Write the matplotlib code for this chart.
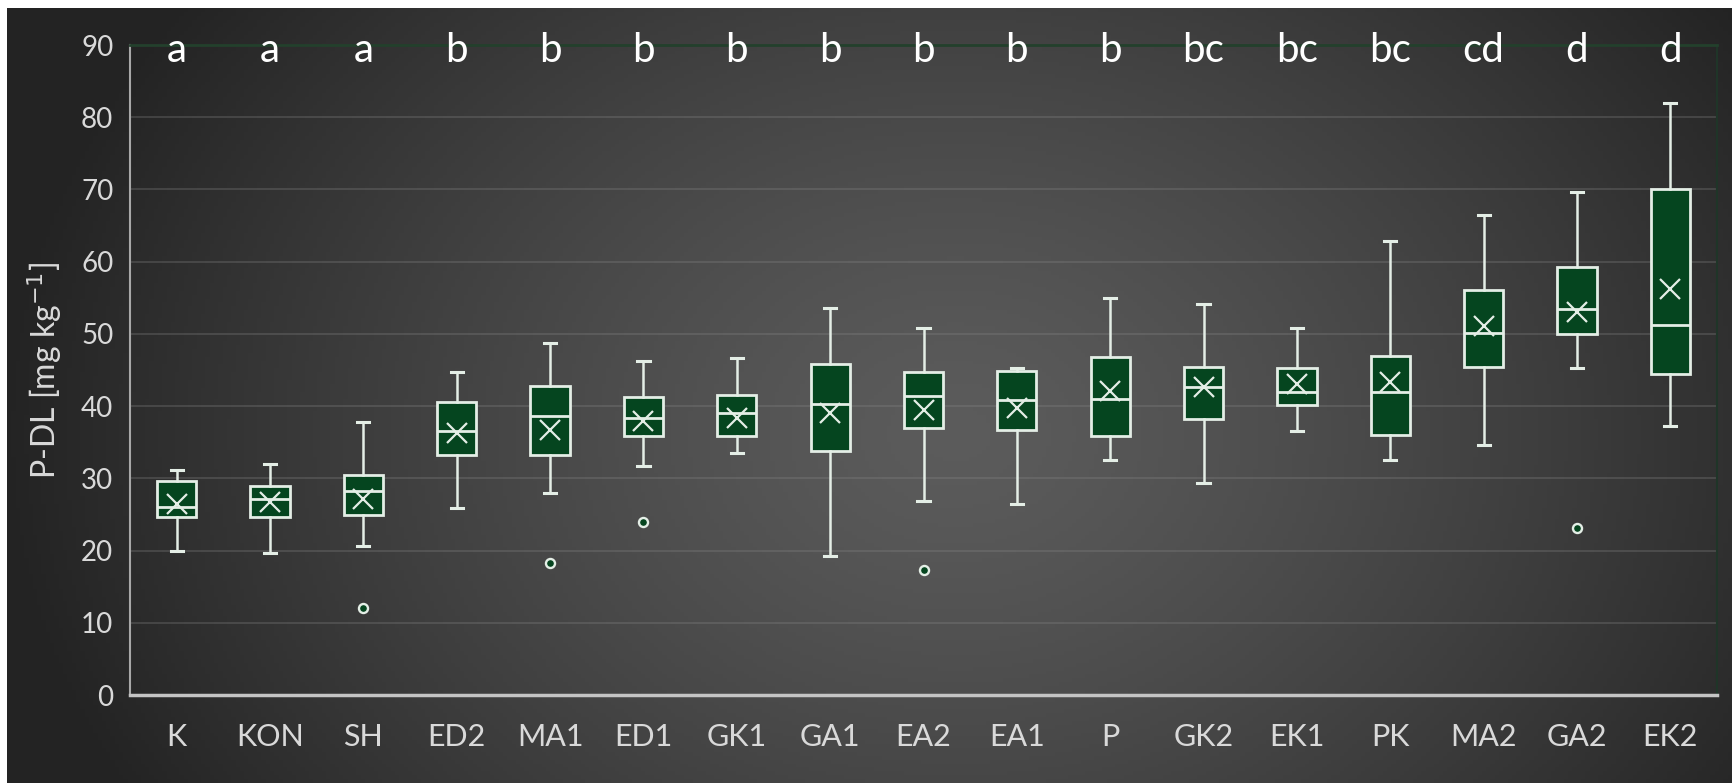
import matplotlib

matplotlib.use("Agg")
import matplotlib.pyplot as plt
import numpy as np

# group labels, ordered by mean
groups = ["K", "KON", "SH", "ED2", "MA1", "ED1", "GK1", "GA1", "EA2",
          "EA1", "P", "GK2", "EK1", "PK", "MA2", "GA2", "EK2"]
letters = ["a", "a", "a", "b", "b", "b", "b", "b", "b",
           "b", "b", "bc", "bc", "bc", "cd", "d", "d"]

# box statistics (P-DL, mg/kg)
whislo = [20.0, 19.7, 20.6, 25.9, 28.0, 31.7, 33.5, 19.2, 26.9,
          26.4, 32.5, 29.4, 36.5, 32.6, 34.6, 45.3, 37.2]
q1 = [24.6, 24.6, 24.9, 33.3, 33.3, 35.9, 35.9, 33.8, 37.0,
      36.7, 35.9, 38.2, 40.2, 36.0, 45.4, 50.0, 44.5]
med = [26.1, 27.2, 28.3, 36.5, 38.7, 38.4, 39.1, 40.3, 41.4,
       40.8, 41.0, 42.6, 41.9, 41.9, 50.1, 53.4, 51.2]
q3 = [29.6, 29.0, 30.4, 40.6, 42.8, 41.2, 41.6, 45.8, 44.7,
      44.8, 46.8, 45.4, 45.3, 46.9, 56.1, 59.3, 70.0]
whishi = [31.1, 32.0, 37.8, 44.7, 48.8, 46.3, 46.7, 53.6, 50.8,
          45.3, 55.0, 54.1, 50.8, 62.8, 66.5, 69.6, 82.0]
means = [26.4, 26.7, 27.1, 36.3, 36.7, 37.9, 38.3, 39.0, 39.4,
         39.7, 42.1, 42.6, 43.0, 43.4, 51.1, 53.1, 56.2]
outliers = [[], [], [12.1], [], [18.3], [23.9], [], [], [17.3],
            [], [], [], [], [], [], [23.1], []]

W, H = 1732, 783
GREEN = "#05451f"
EDGE = "#e4eee6"
TXT = "#d9d9d9"

plt.rcParams["font.family"] = ["Lato", "DejaVu Sans"]

fig = plt.figure(figsize=(W / 100, H / 100), dpi=100, facecolor="white")

# dark gradient panel behind the chart
bg = fig.add_axes([7 / W, 0, 1 - 7 / W, 1 - 8 / H], zorder=-10)
xx, yy = np.meshgrid(np.linspace(0, 1, 400), np.linspace(0, 1, 200))
r = np.sqrt(((xx - 0.55) / 0.55) ** 2 + ((yy - 0.55) / 0.95) ** 2)
shade = 0.36 - (0.36 - 0.14) * np.clip(r, 0, 1) ** 1.3
bg.imshow(np.dstack([shade, shade, shade]), aspect="auto", extent=[0, 1, 0, 1])
bg.axis("off")

ax = fig.add_axes([130 / W, (H - 695) / H, (1717 - 130) / W, (695 - 45) / H])
ax.set_facecolor("none")

stats = []
for i, g in enumerate(groups):
    stats.append(dict(label=g, whislo=whislo[i], q1=q1[i], med=med[i], q3=q3[i],
                      whishi=whishi[i], mean=means[i], fliers=outliers[i]))

ax.bxp(
    stats,
    widths=0.42,
    capwidths=0.13,
    showmeans=True,
    patch_artist=True,
    boxprops=dict(facecolor=GREEN, edgecolor=EDGE, linewidth=2.0),
    medianprops=dict(color=EDGE, linewidth=2.0),
    whiskerprops=dict(color=EDGE, linewidth=1.8),
    capprops=dict(color=EDGE, linewidth=2.2),
    meanprops=dict(marker="x", markersize=15, markeredgecolor=EDGE,
                   markeredgewidth=1.6),
    flierprops=dict(marker="o", markersize=6.5, markerfacecolor=GREEN,
                    markeredgecolor=EDGE, markeredgewidth=1.7),
)

for i, lab in enumerate(letters):
    ax.text(i + 1, 87.6, lab, ha="center", va="baseline", fontsize=29,
            color="white")

ax.set_ylim(0, 90)
ax.set_xlim(0.5, len(groups) + 0.5)
ax.set_yticks(range(0, 91, 10))
ax.yaxis.grid(True, color="#8a8a8a", alpha=0.3, linewidth=1.3)
ax.set_axisbelow(True)
ax.tick_params(axis="both", length=0, colors=TXT)
ax.tick_params(axis="y", pad=12, labelsize=20)
ax.tick_params(axis="x", pad=20, labelsize=22)

ax.spines["right"].set_color("#1f3528")
ax.spines["right"].set_linewidth(1.5)
ax.spines["top"].set_color("#23402c")
ax.spines["top"].set_linewidth(2)
ax.spines["left"].set_color("#a8a8a8")
ax.spines["left"].set_linewidth(1.5)
ax.spines["bottom"].set_color("#c4c4c4")
ax.spines["bottom"].set_linewidth(2.5)

ax.set_ylabel("P-DL [mg kg$^{-1}$]", fontsize=23, color=TXT, labelpad=12)

fig.savefig("out.png", dpi=100, facecolor=fig.get_facecolor())
